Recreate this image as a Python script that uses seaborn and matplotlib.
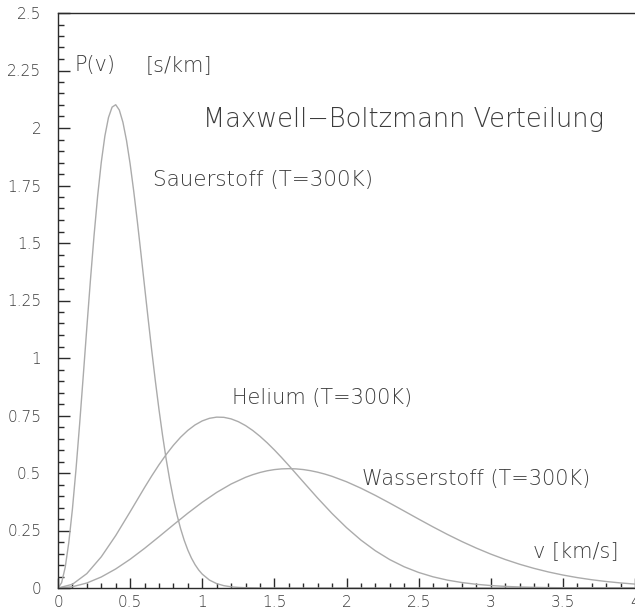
import matplotlib
matplotlib.use("Agg")
import matplotlib.pyplot as plt
from matplotlib.ticker import MultipleLocator, FixedLocator, FixedFormatter
import pandas as pd
import seaborn as sns

# Speeds in km/s and probability densities in s/km
v_oxygen = [0.0, 0.025, 0.05, 0.075, 0.10, 0.125, 0.15, 0.175, 0.20, 0.225,
            0.25, 0.275, 0.30, 0.325, 0.35, 0.375, 0.40, 0.425, 0.45, 0.475,
            0.50, 0.525, 0.55, 0.575, 0.60, 0.625, 0.65, 0.675, 0.70, 0.725,
            0.75, 0.775, 0.80, 0.825, 0.85, 0.875, 0.90, 0.925, 0.95, 0.975,
            1.00, 1.05, 1.10, 1.15, 1.20, 1.25, 1.30, 1.40, 1.60, 2.00, 3.00,
            4.00]
p_oxygen = [0.0, 0.0228, 0.0901, 0.1987, 0.3434, 0.5176, 0.7132, 0.9215,
            1.1334, 1.3400, 1.5332, 1.7054, 1.8509, 1.9653, 2.0457, 2.0908,
            2.1012, 2.0782, 2.0251, 1.9455, 1.8439, 1.7250, 1.5938, 1.4545,
            1.3119, 1.1699, 1.0314, 0.8996, 0.7763, 0.6627, 0.5598, 0.4682,
            0.3876, 0.3177, 0.2579, 0.2073, 0.1650, 0.1301, 0.1016, 0.0786,
            0.0603, 0.0344, 0.0190, 0.0101, 0.0052, 0.0026, 0.0012, 0.0002,
            0.0, 0.0, 0.0, 0.0]

v_helium = [0.0, 0.1, 0.2, 0.3, 0.4, 0.5, 0.6, 0.65, 0.7, 0.75, 0.8, 0.85,
            0.9, 0.95, 1.0, 1.05, 1.1, 1.15, 1.2, 1.25, 1.3, 1.35, 1.4, 1.45,
            1.5, 1.55, 1.6, 1.7, 1.8, 1.9, 2.0, 2.1, 2.2, 2.3, 2.4, 2.5, 2.6,
            2.7, 2.8, 2.9, 3.0, 3.1, 3.2, 3.3, 3.4, 3.5, 3.6, 3.7, 3.8, 3.9,
            4.0]
p_helium = [0.0, 0.0161, 0.0627, 0.1356, 0.2279, 0.3313, 0.4368, 0.4876,
            0.5358, 0.5803, 0.6205, 0.6557, 0.6853, 0.7090, 0.7265, 0.7378,
            0.7429, 0.7420, 0.7353, 0.7232, 0.7063, 0.6849, 0.6597, 0.6313,
            0.6003, 0.5672, 0.5327, 0.4616, 0.3909, 0.3238, 0.2625, 0.2083,
            0.1620, 0.1234, 0.0922, 0.0676, 0.0486, 0.0342, 0.0237, 0.0161,
            0.0107, 0.0070, 0.0045, 0.0029, 0.0018, 0.0011, 0.0006, 0.0004,
            0.0002, 0.0001, 0.0001]

v_hydrogen = [0.0, 0.1, 0.2, 0.3, 0.4, 0.5, 0.6, 0.7, 0.8, 0.9, 1.0, 1.1,
              1.2, 1.3, 1.35, 1.4, 1.45, 1.5, 1.55, 1.6, 1.65, 1.7, 1.75,
              1.8, 1.85, 1.9, 2.0, 2.1, 2.2, 2.3, 2.4, 2.5, 2.6, 2.7, 2.8,
              2.9, 3.0, 3.1, 3.2, 3.3, 3.4, 3.5, 3.6, 3.7, 3.8, 3.9, 4.0]
p_hydrogen = [0.0, 0.0055, 0.0217, 0.0479, 0.0828, 0.1249, 0.1723, 0.2229,
              0.2746, 0.3252, 0.3728, 0.4156, 0.4521, 0.4812, 0.4927, 0.5022,
              0.5096, 0.5148, 0.5179, 0.5189, 0.5179, 0.5150, 0.5101, 0.5035,
              0.4953, 0.4855, 0.4620, 0.4339, 0.4026, 0.3691, 0.3345, 0.2997,
              0.2656, 0.2328, 0.2020, 0.1735, 0.1474, 0.1240, 0.1033, 0.0853,
              0.0697, 0.0564, 0.0452, 0.0359, 0.0282, 0.0220, 0.0170]

gases = ["Sauerstoff", "Helium", "Wasserstoff"]
labels = ["Sauerstoff (T=300K)", "Helium (T=300K)", "Wasserstoff (T=300K)"]

x_ticks = [0, 0.5, 1, 1.5, 2, 2.5, 3, 3.5, 4]
x_ticklabels = ["0", "0.5", "1", "1.5", "2", "2.5", "3", "3.5", "4"]
y_ticks = [0, 0.25, 0.5, 0.75, 1, 1.25, 1.5, 1.75, 2, 2.25, 2.5]
y_ticklabels = ["0", "0.25", "0.5", "0.75", "1", "1.25", "1.5", "1.75", "2",
                "2.25", "2.5"]

df = pd.concat([
    pd.DataFrame({"v": v_oxygen, "P": p_oxygen, "gas": gases[0]}),
    pd.DataFrame({"v": v_helium, "P": p_helium, "gas": gases[1]}),
    pd.DataFrame({"v": v_hydrogen, "P": p_hydrogen, "gas": gases[2]}),
], ignore_index=True)

sns.set_style("white")
plt.rcParams["font.family"] = ["DejaVu Sans"]
plt.rcParams["font.weight"] = 200

text_col = "#3c3c3c"
line_col = "#ababab"
axis_col = "#2b2b2b"

fig = plt.figure(figsize=(6.35, 6.10), dpi=100)
ax = fig.add_axes([58 / 635, 22 / 610, 577 / 635, 575 / 610])

sns.lineplot(data=df, x="v", y="P", hue="gas", units="gas", estimator=None,
             palette=[line_col] * 3, linewidth=1.0, legend=False, ax=ax,
             sort=False)

ax.set_xlim(0, 4)
ax.set_ylim(0, 2.5)
ax.set_xlabel("")
ax.set_ylabel("")

ax.xaxis.set_major_locator(FixedLocator(x_ticks))
ax.xaxis.set_major_formatter(FixedFormatter(x_ticklabels))
ax.yaxis.set_major_locator(FixedLocator(y_ticks))
ax.yaxis.set_major_formatter(FixedFormatter(y_ticklabels))
ax.xaxis.set_minor_locator(MultipleLocator(0.1))
ax.yaxis.set_minor_locator(MultipleLocator(0.05))

for side in ["left", "bottom", "top"]:
    ax.spines[side].set_color(axis_col)
    ax.spines[side].set_linewidth(1.0)
ax.spines["right"].set_visible(False)

ax.tick_params(axis="both", which="both", direction="in", color=axis_col,
               width=1.0, labelcolor=text_col, labelsize=11)
ax.tick_params(axis="x", which="major", length=7.2, pad=5,
               bottom=True, top=False)
ax.tick_params(axis="x", which="minor", length=3.6, bottom=True, top=False)
ax.tick_params(axis="y", which="major", length=8.6, pad=12,
               left=True, right=False)
ax.tick_params(axis="y", which="minor", length=4.3, left=True, right=False)

label_size = 15
ax.text(1.005, 2.035, "Maxwell\u2212Boltzmann Verteilung", fontsize=18.5,
        color=text_col, ha="left", va="center")
ax.text(0.111, 2.272, "P(v)", fontsize=label_size, color=text_col,
        ha="left", va="center")
ax.text(0.61, 2.272, "[s/km]", fontsize=label_size, color=text_col,
        ha="left", va="center")
ax.text(0.658, 1.774, labels[0], fontsize=15.5, color=text_col,
        ha="left", va="center")
ax.text(1.206, 0.826, labels[1], fontsize=label_size, color=text_col,
        ha="left", va="center")
ax.text(2.107, 0.475, labels[2], fontsize=label_size, color=text_col,
        ha="left", va="center")
ax.text(3.29, 0.162, "v [km/s]", fontsize=label_size, color=text_col,
        ha="left", va="center")

fig.savefig("out.png", dpi=100)
